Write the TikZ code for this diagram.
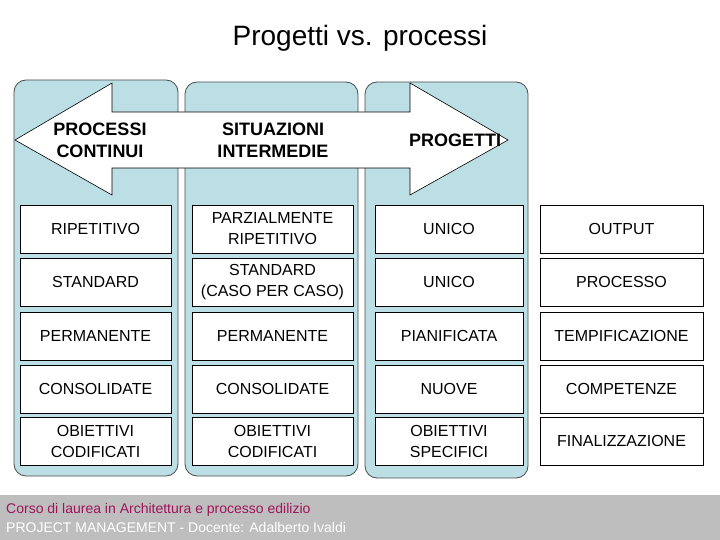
\documentclass[tikz,border=0pt]{standalone}
\usepackage{fontspec}
\setmainfont{Liberation Sans}
\begin{document}
\begin{tikzpicture}[x=1pt,y=-1pt,
  col/.style={fill=colbg,draw=black!70,rounded corners=12pt,line width=0.8pt},
  cell/.style={draw=black,fill=white,minimum width=#1,minimum height=48pt,align=center,font=\fontsize{16}{21}\selectfont,inner sep=1pt,line width=0.6pt},
  cell/.default=150pt,
  hdr/.style={align=center,font=\bfseries\fontsize{18}{22}\selectfont}]
\definecolor{colbg}{RGB}{187,223,228}
\definecolor{foot}{RGB}{190,190,190}
\definecolor{mag}{RGB}{160,20,90}
\useasboundingbox (0,0) rectangle (720,540);
\fill[white] (0,0) rectangle (720,540);
\fill[foot] (0,495) rectangle (720,540);
\node[font=\fontsize{28}{32}\selectfont] (title) at (360,38) {Progetti vs. processi};
\draw[col] (14,80) rectangle (178,476);
\draw[col] (185,82) rectangle (358,476);
\draw[col] (365,82) rectangle (528,478);
\draw[fill=white,line width=0.6pt] (15,140) -- (112,83) -- (112,112) -- (410,112) -- (410,83) -- (508,140) -- (410,195) -- (410,168) -- (112,168) -- (112,195) -- cycle;
\node[hdr] (h1) at (100,140) {PROCESSI\\CONTINUI};
\node[hdr] (h2) at (273,140) {SITUAZIONI\\INTERMEDIE};
\node[hdr] (h3) at (455,140) {PROGETTI};
\foreach \y/\a/\b/\c/\d [count=\i] in {229/RIPETITIVO/{PARZIALMENTE\\RIPETITIVO}/UNICO/OUTPUT,
  282/STANDARD/{STANDARD\\(CASO PER CASO)}/UNICO/PROCESSO,
  336/PERMANENTE/PERMANENTE/PIANIFICATA/TEMPIFICAZIONE,
  389/CONSOLIDATE/CONSOLIDATE/NUOVE/COMPETENZE,
  441/{OBIETTIVI\\CODIFICATI}/{OBIETTIVI\\CODIFICATI}/{OBIETTIVI\\SPECIFICI}/FINALIZZAZIONE}{
  \node[cell=151pt] (a\i) at (95.5,\y) {\a};
  \node[cell=161pt] (b\i) at (272.5,\y) {\b};
  \node[cell=148pt] (c\i) at (449,\y) {\c};
  \node[cell=163pt] (d\i) at (621.5,\y) {\d};
}
\node[anchor=west,text=mag,font=\fontsize{14}{16}\selectfont,inner sep=0] (f1) at (6,510) {Corso di laurea in Architettura e processo edilizio};
\node[anchor=west,text=white,font=\fontsize{14}{16}\selectfont,inner sep=0] (f2) at (6,527) {PROJECT MANAGEMENT - Docente: Adalberto Ivaldi};
\end{tikzpicture}
\end{document}
